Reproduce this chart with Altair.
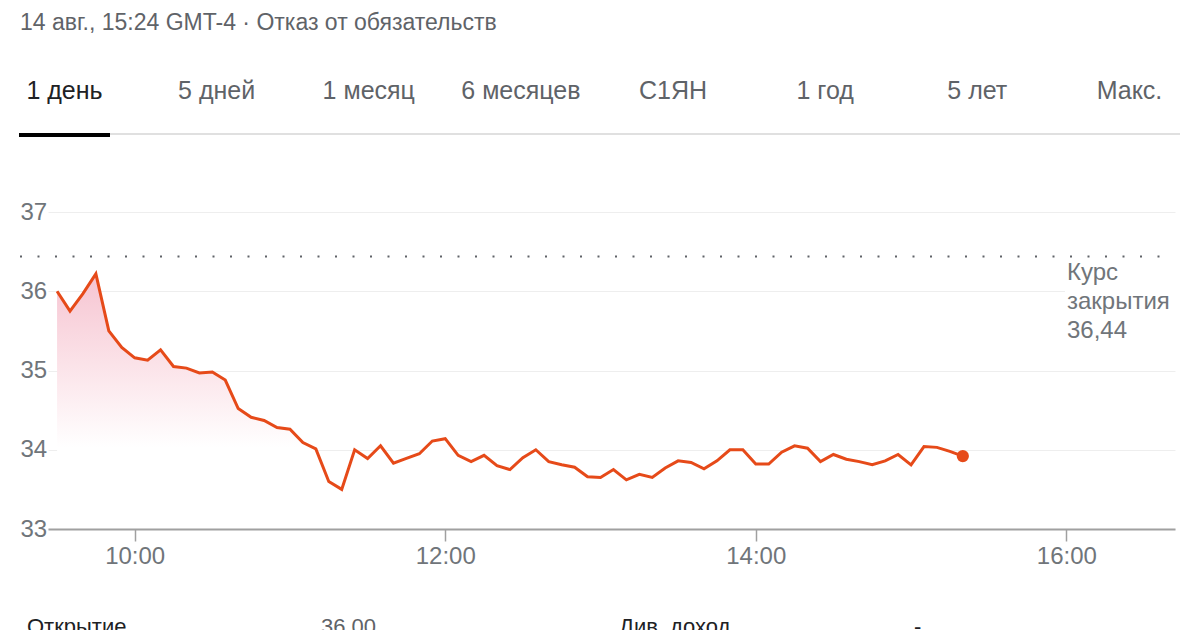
import altair as alt
import pandas as pd

# ---------------- data ----------------
TIMES = [
    "09:30", "09:35", "09:40", "09:45", "09:50", "09:55", "10:00", "10:05", "10:10", "10:15",
    "10:20", "10:25", "10:30", "10:35", "10:40", "10:45", "10:50", "10:55", "11:00", "11:05",
    "11:10", "11:15", "11:20", "11:25", "11:30", "11:35", "11:40", "11:45", "11:50", "11:55",
    "12:00", "12:05", "12:10", "12:15", "12:20", "12:25", "12:30", "12:35", "12:40", "12:45",
    "12:50", "12:55", "13:00", "13:05", "13:10", "13:15", "13:20", "13:25", "13:30", "13:35",
    "13:40", "13:45", "13:50", "13:55", "14:00", "14:05", "14:10", "14:15", "14:20", "14:25",
    "14:30", "14:35", "14:40", "14:45", "14:50", "14:55", "15:00", "15:05", "15:10", "15:15",
    "15:20",
]
PRICES = [
    36.00, 35.75, 35.97, 36.22, 35.50, 35.29, 35.16, 35.13, 35.26, 35.05,
    35.03, 34.97, 34.98, 34.88, 34.52, 34.41, 34.37, 34.28, 34.26, 34.09,
    34.01, 33.60, 33.50, 34.00, 33.89, 34.05, 33.83, 33.89, 33.95, 34.11,
    34.14, 33.93, 33.85, 33.93, 33.80, 33.75, 33.90, 34.00, 33.85, 33.81,
    33.78, 33.66, 33.65, 33.75, 33.62, 33.69, 33.65, 33.77, 33.86, 33.84,
    33.76, 33.86, 34.00, 34.00, 33.82, 33.82, 33.97, 34.05, 34.02, 33.85,
    33.94, 33.88, 33.85, 33.81, 33.86, 33.94, 33.81, 34.04, 34.03, 33.98,
    33.92,
]
PREV_CLOSE = 36.44
Y_TICKS = [33, 34, 35, 36, 37]
X_TICKS = ["10:00", "12:00", "14:00", "16:00"]
X_RANGE = ["09:26.5", "16:42"]
HEADER = "14 авг., 15:24 GMT-4 · Отказ от обязательств"
TABS = ["1 день", "5 дней", "1 месяц", "6 месяцев", "С1ЯН", "1 год", "5 лет", "Макс."]
CLOSE_LABEL = ["Курс", "закрытия"]
STATS = [("Открытие", "36,00"), ("Див. доход", "-")]


def to_min(s):
    h, m = s.split(":")
    return int(h) * 60 + float(m)


df = pd.DataFrame({"t": [to_min(s) for s in TIMES], "p": PRICES})

FONT = "Liberation Sans, Arial, sans-serif"
LINE = "#e64a19"
W, H = 1127, 317

xs = alt.Scale(domain=[to_min(X_RANGE[0]), to_min(X_RANGE[1])], nice=False, zero=False)
ys = alt.Scale(domain=[min(Y_TICKS), max(Y_TICKS)], nice=False, zero=False)

x_enc = alt.X(
    "t:Q", scale=xs,
    axis=alt.Axis(
        values=[to_min(s) for s in X_TICKS],
        labelExpr="floor(datum.value/60) + ':00'",
        title=None, grid=False, domainColor="#a0a0a0", domainWidth=2,
        tickColor="#a0a0a0", tickSize=12, tickWidth=1.5,
        labelColor="#70757a", labelFontSize=24, labelFont=FONT,
        labelPadding=3, labelFlush=False, zindex=1,
    ),
)
y_enc = alt.Y(
    "p:Q", scale=ys,
    axis=alt.Axis(
        values=Y_TICKS, format="d", title=None, domain=False, ticks=False, tickSize=0,
        labelAlign="left", labelPadding=28, labelColor="#70757a",
        labelFontSize=24, labelFont=FONT, labelFlush=False,
        gridColor="#eeeeee", gridWidth=1, zindex=0,
    ),
)

one = pd.DataFrame({"a": [0]})

area = alt.Chart(df).mark_area(
    color=alt.Gradient(
        gradient="linear",
        stops=[
            alt.GradientStop(color="#f6c4d1", offset=0),
            alt.GradientStop(color="#fbe2e8", offset=0.35),
            alt.GradientStop(color="#ffffff", offset=0.68),
        ],
        x1=1, x2=1, y1=0, y2=1,
    )
).encode(x=x_enc, y=y_enc, y2=alt.datum(min(Y_TICKS)))

line = alt.Chart(df).mark_line(color=LINE, strokeWidth=3).encode(x="t:Q", y="p:Q")
last = alt.Chart(df.tail(1)).mark_circle(color=LINE, size=150, opacity=1).encode(x="t:Q", y="p:Q")

prev = alt.Chart(pd.DataFrame({"p": [PREV_CLOSE]})).mark_rule(
    color="#5f6368", strokeWidth=2, strokeDash=[2, 15.5]
).encode(y="p:Q", x=alt.value(-28), x2=alt.value(1122))

cover = alt.Chart(one).mark_rect(color="white").encode(
    x=alt.value(1017), x2=alt.value(1130), y=alt.value(50), y2=alt.value(133)
)

close_txt = alt.Chart(
    pd.DataFrame({"txt": ["\n".join(CLOSE_LABEL + [f"{PREV_CLOSE:.2f}".replace(".", ",")])]})
).mark_text(
    align="left", baseline="alphabetic", font=FONT, fontSize=24, color="#70757a",
    lineBreak="\n", lineHeight=29,
).encode(x=alt.value(1019), y=alt.value(68), text="txt:N")

header = alt.Chart(pd.DataFrame({"txt": [HEADER]})).mark_text(
    align="left", baseline="alphabetic", font=FONT, fontSize=23, color="#5f6368"
).encode(x=alt.value(-28), y=alt.value(-182), text="txt:N")

layers = [area, cover, prev, line, last, close_txt, header]

for i, tab in enumerate(TABS):
    layers.append(
        alt.Chart(pd.DataFrame({"txt": [tab]})).mark_text(
            align="center", baseline="alphabetic", font=FONT, fontSize=25,
            color="#202124" if i == 0 else "#5f6368",
        ).encode(x=alt.value(16.5 + 152.14 * i), y=alt.value(-113), text="txt:N")
    )

sep = alt.Chart(one).mark_rule(color="#e0e0e0", strokeWidth=2).encode(
    x=alt.value(-29), x2=alt.value(1160), y=alt.value(-78)
)
underline = alt.Chart(one).mark_rect(color="#000000").encode(
    x=alt.value(-29), x2=alt.value(62), y=alt.value(-79), y2=alt.value(-75)
)
layers += [sep, underline]

for j, (lab, val) in enumerate(STATS):
    layers.append(
        alt.Chart(pd.DataFrame({"txt": [lab]})).mark_text(
            align="left", baseline="alphabetic", font=FONT, fontSize=22, color="#202124"
        ).encode(x=alt.value(-21 + 592 * j), y=alt.value(421.5), text="txt:N")
    )
    layers.append(
        alt.Chart(pd.DataFrame({"txt": [val]})).mark_text(
            align="left", baseline="alphabetic", font=FONT, fontSize=22,
            color="#5f6368" if j == 0 else "#202124",
        ).encode(x=alt.value(273 + 593 * j), y=alt.value(421.5), text="txt:N")
    )

chart = alt.layer(*layers).properties(
    width=W, height=H,
    autosize=alt.AutoSizeParams(type="none"),
    padding={"left": 40, "top": 204, "right": 5, "bottom": 110},
).configure(font=FONT).configure_view(stroke=None)

chart.save("out.html", embed_options={"renderer": "svg", "actions": False})
